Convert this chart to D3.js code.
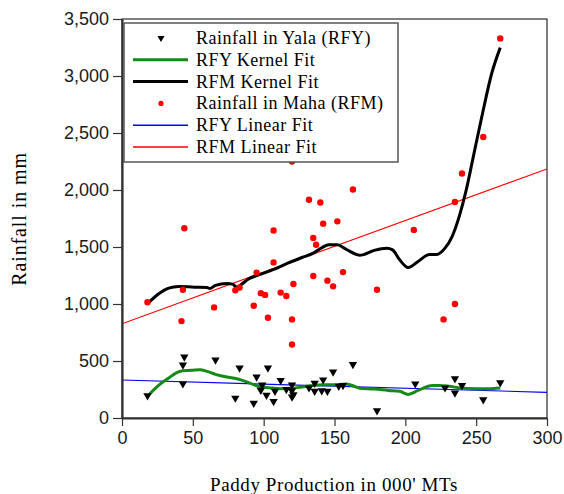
<!DOCTYPE html>
<html>
<head>
<meta charset="utf-8">
<script src="https://cdn.jsdelivr.net/npm/d3@7"></script>
<style>
  body { margin: 0; background: #fff; }
  svg { display: block; }
</style>
</head>
<body>
<div id="chart"></div>
<script>
// Paddy production (000' MT) with Maha / Yala rainfall (mm)
const rfmX = [18, 43, 42, 44, 65, 80, 83, 93, 95, 98, 101, 103, 107, 107, 112, 116, 120, 120, 121, 120,
  132, 135, 137, 135, 140, 142, 145, 149, 152, 156, 163, 180, 206, 227, 235, 235, 240, 255, 267];
const rfmY = [1015, 1125, 850, 1665, 970, 1120, 1145, 985, 1275, 1095, 1080, 880, 1365, 1645, 1100, 1070, 865, 645, 1175, 2250,
  1915, 1580, 1520, 1245, 1890, 1705, 1205, 1155, 1725, 1280, 2005, 1125, 1650, 865, 1895, 1000, 2145, 2465, 3330];

const rfyX = [18, 43, 43, 44, 66, 80, 83, 93, 95, 98, 99, 102, 103, 107, 108, 112, 116, 120, 120, 121, 120,
  132, 136, 136, 141, 142, 145, 149, 153, 156, 163, 180, 207, 228, 235, 235, 240, 255, 267];
const rfyY = [195, 300, 465, 535, 510, 175, 440, 130, 360, 245, 290, 200, 440, 145, 235, 330, 250, 290, 185, 205, 240,
  265, 305, 235, 240, 335, 235, 405, 280, 285, 470, 65, 300, 265, 345, 220, 285, 160, 310];

// Kernel fits
const rfmKernelX = [18, 25, 33, 40, 51, 60, 62, 66, 74, 78, 81, 84, 89, 96, 107, 117, 127, 135, 141, 146, 152, 158,
  168, 170, 178, 187, 191, 196, 202, 209, 217, 222, 228, 233, 238, 243, 248, 254, 261, 267];
const rfmKernelY = [1002, 1081, 1139, 1154, 1148, 1145, 1136, 1163, 1180, 1174, 1148, 1169, 1218, 1253, 1303, 1358, 1408,
  1446, 1493, 1519, 1519, 1481, 1428, 1431, 1470, 1490, 1475, 1388, 1320, 1373, 1434, 1434, 1490, 1592, 1767, 2001,
  2293, 2644, 3024, 3249];

const rfyKernelX = [18, 25, 33, 39, 43, 49, 55, 60, 66, 74, 81, 89, 96, 104, 112, 119, 127, 135, 142, 150, 158, 163,
  168, 178, 188, 196, 202, 209, 219, 224, 231, 239, 249, 259, 267];
const rfyKernelY = [190, 277, 351, 400, 415, 418, 424, 409, 383, 359, 345, 313, 278, 266, 257, 260, 272, 286, 292, 292,
  298, 283, 260, 254, 242, 234, 207, 242, 286, 286, 278, 263, 257, 257, 263];

// Linear fits: value at x = 0 and x = 300
const fitX = [0, 300];
const rfyLinear = [333, 225];
const rfmLinear = [827, 2185];

const xTicks = [0, 50, 100, 150, 200, 250, 300];
const yTicks = [0, 500, 1000, 1500, 2000, 2500, 3000, 3500];

const legendLabels = ['Rainfall in Yala (RFY)', 'RFY Kernel Fit', 'RFM Kernel Fit',
  'Rainfall in Maha (RFM)', 'RFY Linear Fit', 'RFM Linear Fit'];

const width = 564, height = 494;
const margin = { top: 19, right: 17, bottom: 76, left: 122 };
const innerW = width - margin.left - margin.right;
const innerH = height - margin.top - margin.bottom;

const serif = '"Liberation Serif", "Times New Roman", serif';

const svg = d3.select('#chart').append('svg')
  .attr('width', width)
  .attr('height', height);

const x = d3.scaleLinear().domain([0, 300]).range([margin.left, margin.left + innerW]);
const y = d3.scaleLinear().domain([0, 3500]).range([margin.top + innerH, margin.top]);

// frame: thin top/right
svg.append('rect')
  .attr('x', x(0)).attr('y', y(3500))
  .attr('width', x(300) - x(0)).attr('height', y(0) - y(3500))
  .attr('fill', 'none').attr('stroke', '#000').attr('stroke-width', 1);

svg.append('clipPath').attr('id', 'plot-clip')
  .append('rect')
  .attr('x', x(0)).attr('y', y(3500))
  .attr('width', x(300) - x(0)).attr('height', y(0) - y(3500));

const plot = svg.append('g').attr('clip-path', 'url(#plot-clip)');

// linear fits
const fitLine = vals => d3.line()
  .x((d, i) => x(fitX[i]))
  .y(d => y(d))(vals);

plot.append('path').attr('d', fitLine(rfmLinear))
  .attr('fill', 'none').attr('stroke', '#ff0000').attr('stroke-width', 1.1);
plot.append('path').attr('d', fitLine(rfyLinear))
  .attr('fill', 'none').attr('stroke', '#0000ff').attr('stroke-width', 1.1);

// kernel fits
const kernelLine = (xs, ys) => d3.line()
  .x((d, i) => x(xs[i]))
  .y((d, i) => y(ys[i]))
  .curve(d3.curveMonotoneX)(xs);

plot.append('path').attr('d', kernelLine(rfyKernelX, rfyKernelY))
  .attr('fill', 'none').attr('stroke', '#168a16').attr('stroke-width', 3);
plot.append('path').attr('d', kernelLine(rfmKernelX, rfmKernelY))
  .attr('fill', 'none').attr('stroke', '#000').attr('stroke-width', 3);

// scatter points
const tri = d3.symbol().type(d3.symbolTriangle).size(30);

plot.selectAll('.rfy')
  .data(rfyX)
  .join('path')
  .attr('class', 'rfy')
  .attr('d', tri)
  .attr('transform', (d, i) => `translate(${x(d)},${y(rfyY[i])}) rotate(180)`)
  .attr('fill', '#000');

plot.selectAll('.rfm')
  .data(rfmX)
  .join('circle')
  .attr('class', 'rfm')
  .attr('cx', d => x(d))
  .attr('cy', (d, i) => y(rfmY[i]))
  .attr('r', 3.2)
  .attr('fill', '#ff0000');

// axes
const xAxis = svg.append('g')
  .attr('transform', `translate(0,${y(0)})`)
  .call(d3.axisBottom(x).tickValues(xTicks).tickSize(8).tickSizeOuter(0).tickPadding(5));
const yAxis = svg.append('g')
  .attr('transform', `translate(${x(0)},0)`)
  .call(d3.axisLeft(y).tickValues(yTicks).tickFormat(d3.format(',')).tickSize(9).tickSizeOuter(0).tickPadding(4));

[xAxis, yAxis].forEach(ax => {
  ax.select('.domain').attr('stroke', '#333').attr('stroke-width', 2.2);
  ax.selectAll('.tick line').attr('stroke', '#333').attr('stroke-width', 1.2);
  ax.selectAll('.tick text')
    .attr('fill', '#1a1a1a')
    .style('font-family', '"Liberation Sans", Arial, sans-serif')
    .style('font-size', '18px');
});

// axis titles
svg.append('text')
  .attr('x', 334)
  .attr('y', 491)
  .attr('text-anchor', 'middle')
  .style('font-family', serif)
  .style('font-size', '19px')
  .style('letter-spacing', '0.6px')
  .text("Paddy Production in 000' MTs");

svg.append('text')
  .attr('transform', 'translate(26,219) rotate(-90)')
  .attr('text-anchor', 'middle')
  .style('font-family', serif)
  .style('font-size', '20px')
  .style('letter-spacing', '0.9px')
  .text('Rainfall in mm');

// legend
const legend = svg.append('g').attr('transform', 'translate(124,23)');

legend.append('rect')
  .attr('width', 274)
  .attr('height', 139)
  .attr('fill', '#fff')
  .attr('stroke', '#555')
  .attr('stroke-width', 1.5);

const legendItems = [
  { kind: 'tri', color: '#000' },
  { kind: 'line', color: '#168a16', w: 3 },
  { kind: 'line', color: '#000', w: 3 },
  { kind: 'dot', color: '#ff0000' },
  { kind: 'line', color: '#0000ff', w: 1.5 },
  { kind: 'line', color: '#ff0000', w: 1.5 }
];

legendItems.forEach((item, i) => {
  const g = legend.append('g')
    .attr('transform', `translate(0, ${15 + i * 21.8})`);

  if (item.kind === 'line') {
    g.append('line')
      .attr('x1', 9).attr('x2', 64)
      .attr('stroke', item.color).attr('stroke-width', item.w);
  } else if (item.kind === 'tri') {
    g.append('path')
      .attr('d', d3.symbol().type(d3.symbolTriangle).size(22)())
      .attr('transform', 'translate(37,0) rotate(180)')
      .attr('fill', item.color);
  } else {
    g.append('circle')
      .attr('cx', 37).attr('r', 2.6)
      .attr('fill', item.color);
  }

  g.append('text')
    .attr('x', 72)
    .attr('y', 6)
    .style('font-family', serif)
    .style('font-size', '18px')
    .style('letter-spacing', '0.5px')
    .text(legendLabels[i]);
});
</script>
</body>
</html>
